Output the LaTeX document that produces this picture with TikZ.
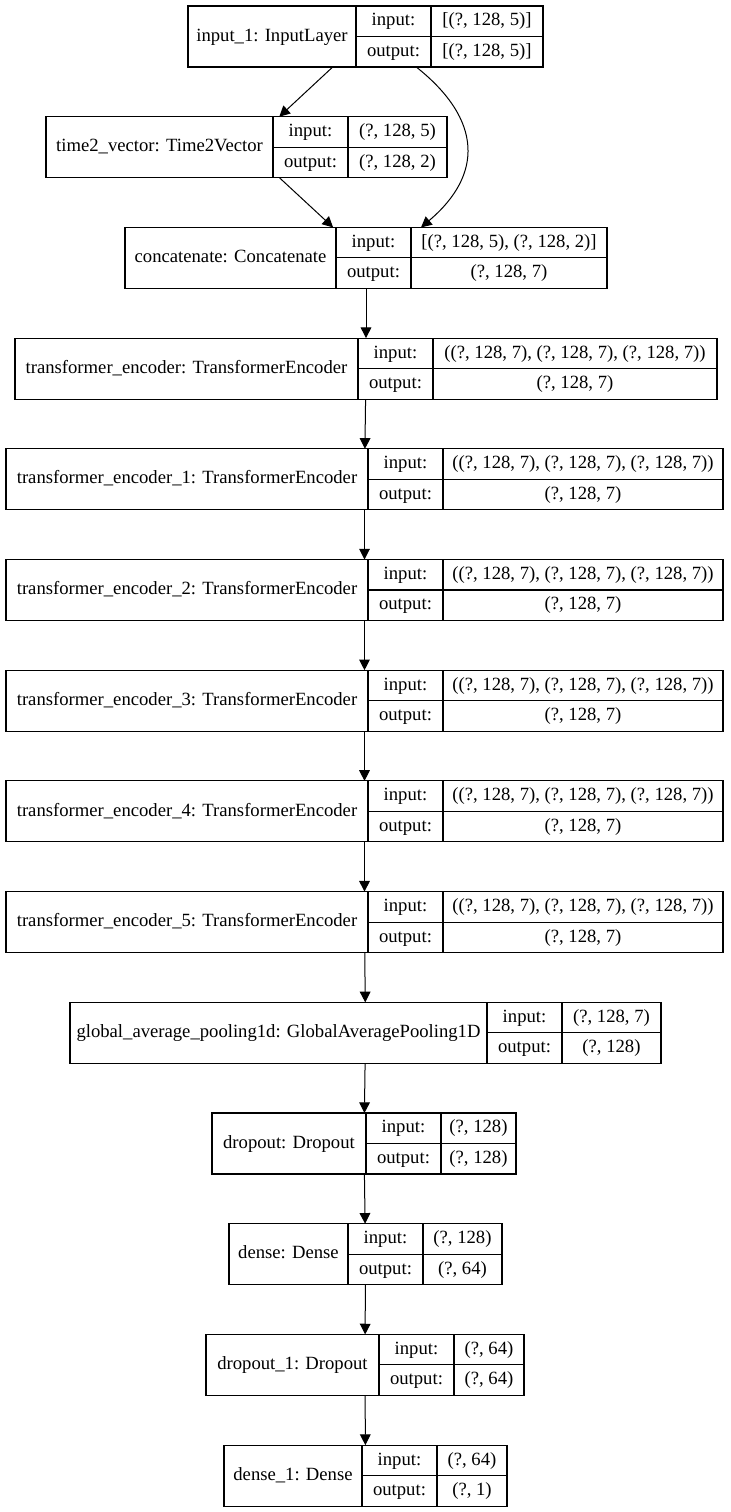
\documentclass[tikz,border=0pt]{standalone}
\usepackage{fontspec}
\setmainfont{Liberation Serif}
\newfontfamily\layerfont{Liberation Serif}
\usetikzlibrary{arrows.meta}

% one layer of the model: name, top, four x edges, title, input shape, output shape
\newcommand{\layerbox}[9]{%
  \pgfmathsetmacro{\lbw}{0.75*(#6-#3)}%
  \pgfmathsetmacro{\lbn}{0.75*(#4-#3)}%
  \pgfmathsetmacro{\lbl}{0.75*(#5-#4)}%
  \pgfmathsetmacro{\lbv}{0.75*(#6-#5)}%
  \node[layer,minimum width=\lbw pt] (#1) at ({(#3+#6)/2},{#2+30.5}) {};
  \node[namecell,minimum width=\lbn pt] (#1-name) at (#3,#2) {#7};
  \node[cell,minimum width=\lbl pt] (#1-inlbl) at (#4,#2) {input:};
  \node[cell,minimum width=\lbl pt] (#1-outlbl) at (#4,{#2+30.5}) {output:};
  \node[cell,minimum width=\lbv pt] (#1-in) at (#5,#2) {#8};
  \node[cell,minimum width=\lbv pt] (#1-out) at (#5,{#2+30.5}) {#9};
}

\begin{document}
\begin{tikzpicture}[x=0.75pt,y=-0.75pt]
    \tikzset{every node/.style = {font=\layerfont\fontsize{14}{16}\selectfont,inner sep=0pt,outer sep=0pt}}
    \tikzset{layer/.style = {draw,line width=0.8pt,rectangle,minimum height=45.75pt}}
    \tikzset{namecell/.style = {draw,line width=0.8pt,anchor=north west,minimum height=45.75pt,text height=9.5pt,text depth=2.5pt}}
    \tikzset{cell/.style = {draw,line width=0.8pt,anchor=north west,minimum height=22.875pt,text height=9.5pt,text depth=2.5pt}}
    \tikzset{arr/.style = {line width=0.75pt,-{Triangle[length=8pt,width=8pt]}}}

    \useasboundingbox (0,0) rectangle (731,1512);

    \layerbox{input1}{6}{188}{356}{431}{543}{input\_1: InputLayer}{[(?, 128, 5)]}{[(?, 128, 5)]}
    \layerbox{time2vec}{116.7}{46}{273}{348}{447}{time2\_vector: Time2Vector}{(?, 128, 5)}{(?, 128, 2)}
    \layerbox{concat}{227.4}{125}{336}{411}{607}{concatenate: Concatenate}{[(?, 128, 5), (?, 128, 2)]}{(?, 128, 7)}
    \layerbox{enc0}{338.1}{15}{358}{433}{717}{transformer\_encoder: TransformerEncoder}{((?, 128, 7), (?, 128, 7), (?, 128, 7))}{(?, 128, 7)}
    \foreach \i/\t in {1/448.8,2/559.5,3/670.2,4/780.9,5/891.6}
        \layerbox{enc\i}{\t}{6}{368}{443}{723}{transformer\_encoder\_\i: TransformerEncoder}{((?, 128, 7), (?, 128, 7), (?, 128, 7))}{(?, 128, 7)};
    \layerbox{gap}{1002.3}{70}{487}{562}{661}{global\_average\_pooling1d: GlobalAveragePooling1D}{(?, 128, 7)}{(?, 128)}
    \layerbox{drop}{1113}{212}{366}{441}{516}{dropout: Dropout}{(?, 128)}{(?, 128)}
    \layerbox{dense}{1223.7}{229}{348}{423}{502}{dense: Dense}{(?, 128)}{(?, 64)}
    \layerbox{drop1}{1334.4}{206}{379}{454}{524}{dropout\_1: Dropout}{(?, 64)}{(?, 64)}
    \layerbox{dense1}{1445.1}{224}{362}{437}{507}{dense\_1: Dense}{(?, 64)}{(?, 1)}

    \draw[arr] (input1) -- (time2vec);
    \draw[arr] (time2vec) -- (concat);
    \draw[arr] (input1.-31) .. controls (483,120) and (483,175) .. (concat.29.5);
    \draw[arr] (concat) -- (enc0);
    \foreach \a/\b in {enc0/enc1,enc1/enc2,enc2/enc3,enc3/enc4,enc4/enc5,enc5/gap,gap/drop,drop/dense,dense/drop1,drop1/dense1}
        \draw[arr] (\a) -- (\b);
\end{tikzpicture}
\end{document}
